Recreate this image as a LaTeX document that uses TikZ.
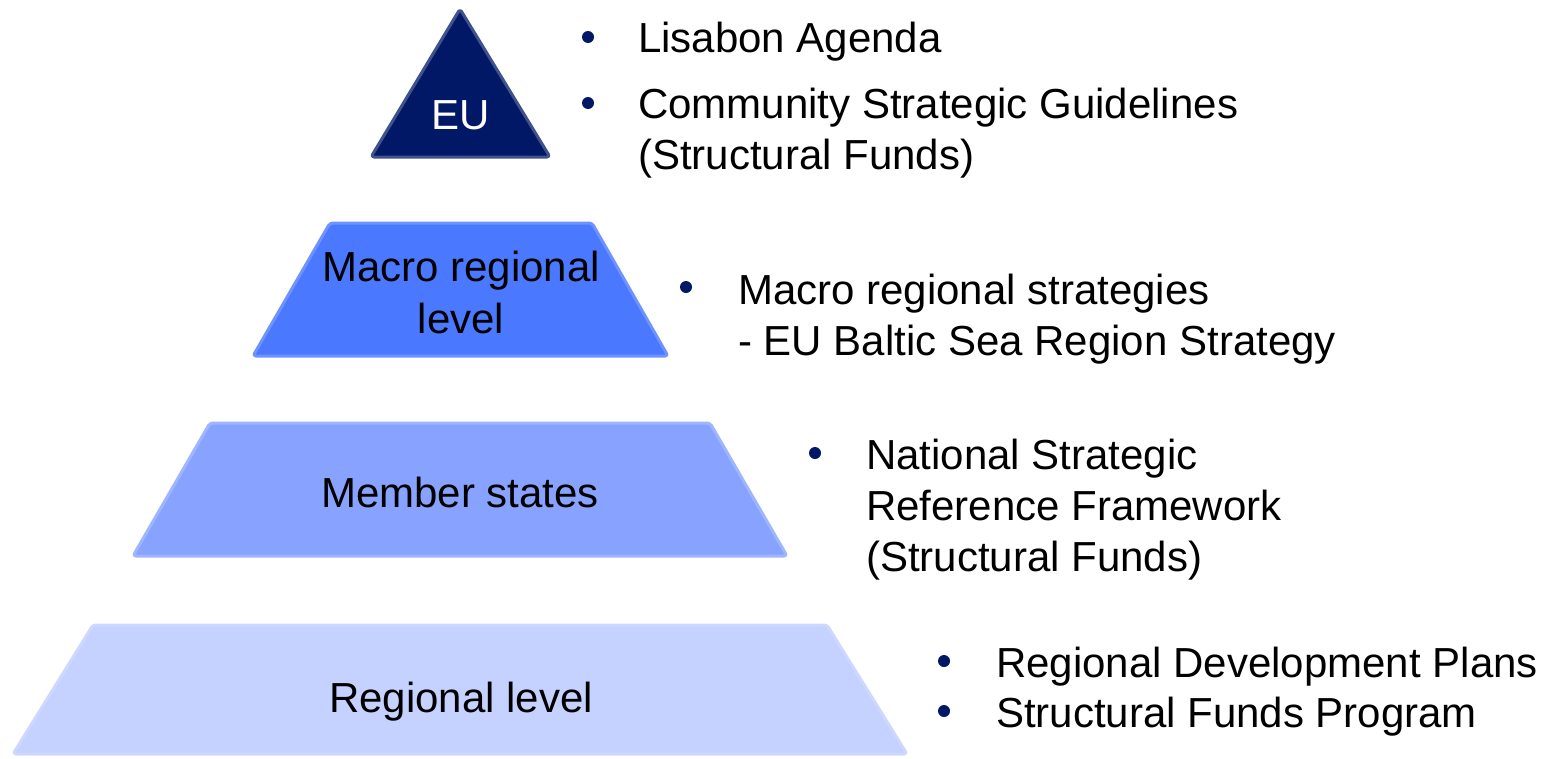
\documentclass[tikz,border=0pt]{standalone}
\usepackage{fontspec}
\setmainfont{Liberation Sans}
\definecolor{euNavy}{RGB}{0,24,102}
\definecolor{macroBlue}{RGB}{74,120,255}
\definecolor{memberBlue}{RGB}{135,163,255}
\definecolor{regionBlue}{RGB}{197,209,255}
\begin{document}
\begin{tikzpicture}[x=1pt,y=-1pt,
  tier/.style={line width=3pt,rounded corners=3pt,line join=round},
  lbl/.style={anchor=base,inner sep=0pt,font=\fontsize{42}{52}\selectfont,align=center},
  txt/.style={anchor=base west,inner sep=0pt,font=\fontsize{42}{51}\selectfont,align=left},
  dot/.style={circle,fill=euNavy,inner sep=0pt,minimum size=12pt}]
\useasboundingbox (0,0) rectangle (1553,758);
% pyramid tiers
\draw[tier,fill=euNavy,draw=euNavy!75!white] (460,9) -- (550,157) -- (371,157) -- cycle;
\draw[tier,fill=macroBlue,draw=macroBlue!80!white] (330,223) -- (592,223) -- (668,356) -- (253,356) -- cycle;
\draw[tier,fill=memberBlue,draw=memberBlue!80!white] (210,423) -- (710,423) -- (787,556) -- (133,556) -- cycle;
\draw[tier,fill=regionBlue,draw=regionBlue!85!white] (93,625) -- (827,625) -- (907,754) -- (13,754) -- cycle;
% tier labels (base = baseline of the last line)
\node[lbl,text=white] (eu) at (461,129) {EU};
\node[lbl] (macro) at (461,333) {Macro regional\\level};
\node[lbl] (member) at (460,507) {Member states};
\node[lbl] (region) at (461,712) {Regional level};
% EU items
\node[dot] (b1) at (588,37) {};
\node[txt] (t1) at (638,52) {Lisabon Agenda};
\node[dot] (b2) at (588,103) {};
\node[txt] (t2) at (638,169) {Community Strategic Guidelines\\(Structural Funds)};
% macro regional items
\node[dot] (b3) at (686,287) {};
\node[txt] (t3) at (738,355) {Macro regional strategies\\- EU Baltic Sea Region Strategy};
% member state items
\node[dot] (b4) at (815,453) {};
\node[txt] (t4) at (866,571) {National Strategic\\Reference Framework\\(Structural Funds)};
% regional items
\node[dot] (b5) at (944,661) {};
\node[txt] (t5) at (996,677) {Regional Development Plans};
\node[dot] (b6) at (944,711) {};
\node[txt] (t6) at (996,727) {Structural Funds Program};
\end{tikzpicture}
\end{document}
